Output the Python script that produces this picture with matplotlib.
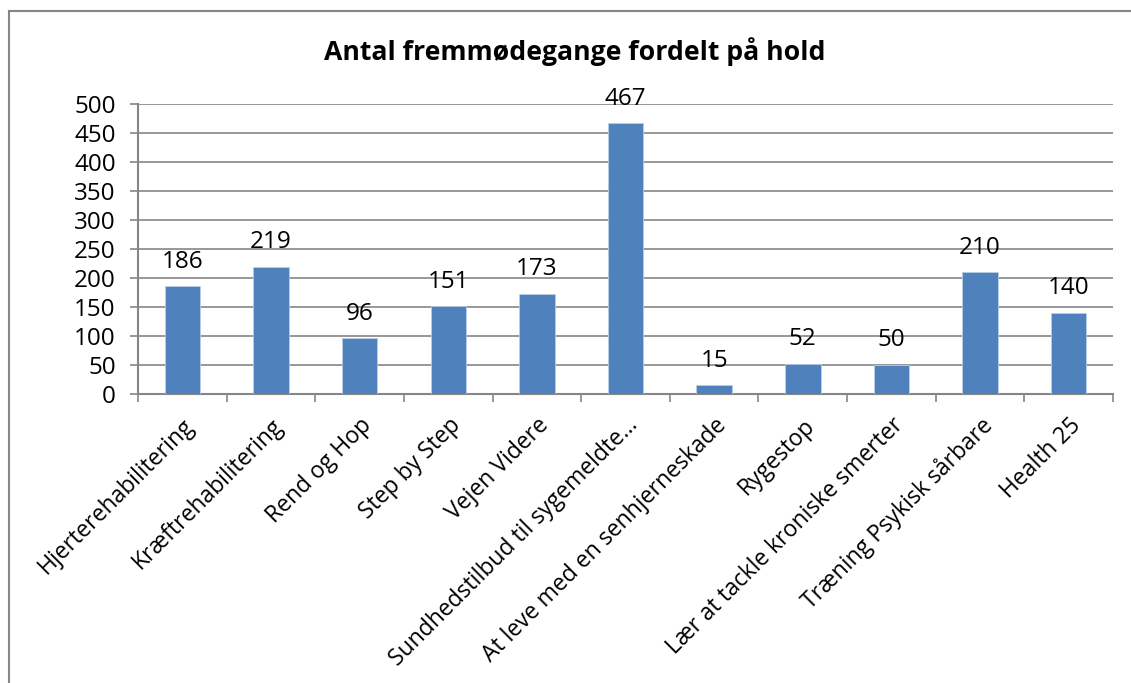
import numpy as np
import matplotlib
matplotlib.use('Agg')
import matplotlib.pyplot as plt
from matplotlib.lines import Line2D

plt.rcParams['font.family'] = ['Open Sans', 'DejaVu Sans']

hold = ["Hjerterehabilitering", "Kræftrehabilitering", "Rend og Hop", "Step by Step",
        "Vejen Videre", "Sundhedstilbud til sygemeldte…", "At leve med en senhjerneskade",
        "Rygestop", "Lær at tackle kroniske smerter", "Træning Psykisk sårbare", "Health 25"]
antal = [186, 219, 96, 151, 173, 467, 15, 52, 50, 210, 140]
yticks = [0, 50, 100, 150, 200, 250, 300, 350, 400, 450, 500]

W, H = 1131, 683
fig = plt.figure(figsize=(W / 100, H / 100), dpi=100)
ax = fig.add_axes([138 / W, 1 - 394 / H, (1113 - 138) / W, (394 - 104) / H])

gray = '#868686'
fs = 17.5
x = np.arange(len(hold))
ax.bar(x, antal, width=0.4, color='#4F81BD', edgecolor='#B9CDE5', linewidth=0.6, zorder=3)
for xi, v in zip(x, antal):
    ax.annotate(str(v), (xi, v), xytext=(0, 9), textcoords='offset points',
                ha='center', va='bottom', fontsize=fs)

ax.set_xlim(-0.5, len(hold) - 0.5)
ax.set_ylim(0, 500)
ax.set_yticks(yticks)
ax.tick_params(axis='y', labelsize=fs, length=6, width=1.2, color=gray, pad=10)
ax.yaxis.grid(True, color=gray, linewidth=1.2, zorder=0)

ax.set_xticks(x)
ax.set_xticklabels([])
ax.tick_params(axis='x', which='major', length=0)
ax.set_xticks(np.arange(len(hold) + 1) - 0.5, minor=True)
ax.tick_params(axis='x', which='minor', length=6, width=1.2, color=gray)

for xi, lab in zip(x, hold):
    ax.annotate(lab, (xi, 0), xytext=(0, -14), textcoords='offset points',
                ha='right', va='top', rotation=45, rotation_mode='anchor',
                fontsize=16.5, annotation_clip=False)

for s in ['top', 'right']:
    ax.spines[s].set_visible(False)
for s in ['left', 'bottom']:
    ax.spines[s].set_color(gray)
    ax.spines[s].set_linewidth(1.5)

fig.text(575 / W, 1 - 52 / H, "Antal fremmødegange fordelt på hold",
         ha='center', va='center', fontsize=19.2, fontweight='bold')

# chart frame
fig.add_artist(Line2D([9 / W, 1.0], [1 - 11 / H] * 2, color=gray, linewidth=1.5))
fig.add_artist(Line2D([9 / W] * 2, [1 - 11 / H, 0], color=gray, linewidth=1.5))

fig.savefig('out.png', dpi=100)
